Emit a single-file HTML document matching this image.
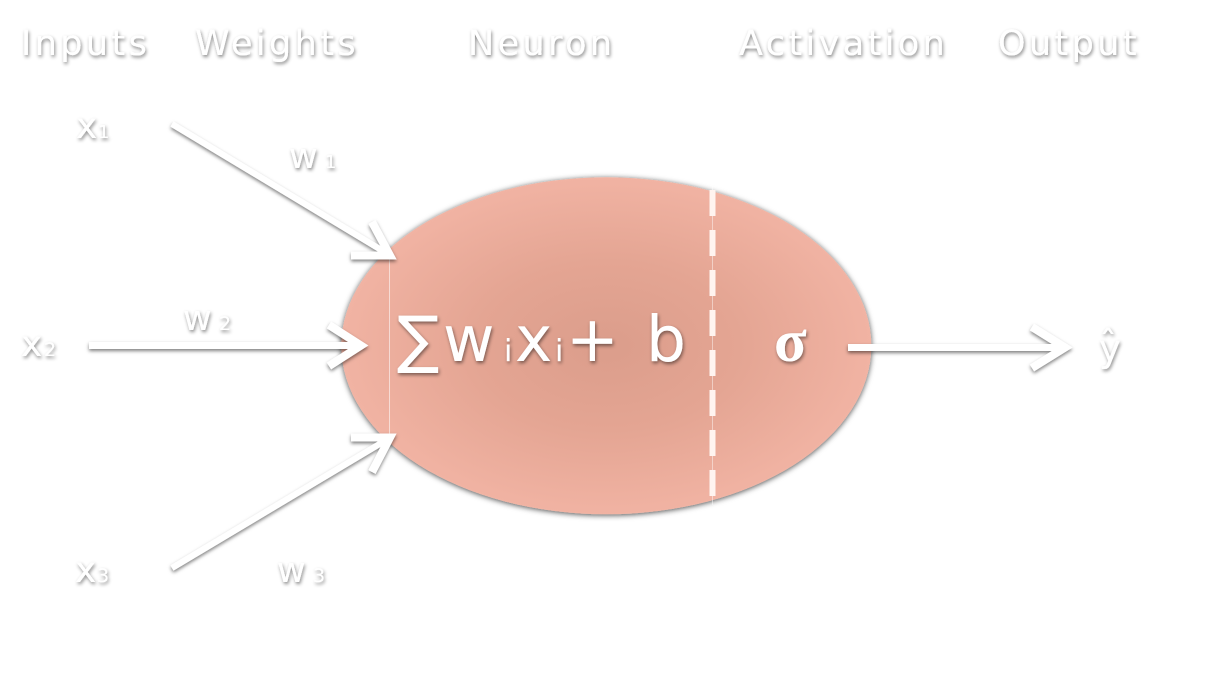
<!DOCTYPE html>
<html>
<head>
<meta charset="utf-8">
<style>
html,body{margin:0;padding:0;background:#fff;}
svg{display:block;}
text{font-family:"DejaVu Sans","Liberation Sans",sans-serif;fill:#fff;}
</style>
</head>
<body>
<svg width="1212" height="690" viewBox="0 0 1212 690">
<defs>
<radialGradient id="ng" gradientUnits="userSpaceOnUse" cx="607" cy="346" r="265" gradientTransform="translate(607 346) scale(1 .64) translate(-607 -346)">
<stop offset="0" stop-color="#db9d8b"/><stop offset=".5" stop-color="#e4a593"/><stop offset="1" stop-color="#f1b3a3"/>
</radialGradient>
<filter id="s" x="-20%" y="-50%" width="140%" height="200%"><feDropShadow dx="1" dy="2" stdDeviation="1.800" flood-color="#000" flood-opacity=".48"/></filter>
<filter id="se" x="-10%" y="-10%" width="120%" height="120%"><feDropShadow dx="0" dy="1" stdDeviation="3" flood-color="#000" flood-opacity=".7"/></filter>
<filter id="sl" filterUnits="userSpaceOnUse" x="0" y="0" width="1212" height="690"><feDropShadow dx="0" dy="2" stdDeviation="1.800" flood-color="#000" flood-opacity=".5"/></filter>
</defs>
<rect width="1212" height="690" fill="#fff"/>
<ellipse cx="606.300" cy="345.800" rx="265" ry="168.500" fill="url(#ng)" filter="url(#se)"/>
<line x1="389.500" y1="258" x2="389.500" y2="435" stroke="#fff" stroke-opacity=".55"/>
<line x1="712.500" y1="186" x2="712.500" y2="505" stroke="#fff" stroke-opacity=".45"/>
<line x1="712.500" y1="190" x2="712.500" y2="497" stroke="#fff4f0" stroke-width="6" stroke-dasharray="26 14"/>

<g font-size="35" letter-spacing="3.400" filter="url(#s)">
<text x="21" y="55">Inputs</text>
<text x="195" y="55">Weights</text>
<text x="468" y="55">Neuron</text>
<text x="739" y="55">Activation</text>
<text x="998" y="55">Output</text>
</g>

<g fill="none" stroke="#fff" filter="url(#sl)">
<g><path stroke-width="6" d="M172 124L388 254"/><path stroke-width="8" d="M372 222L390 255.500L351 255.500"/></g>
<g><path stroke-width="7" d="M89 345.500L358 345.500"/><path stroke-width="8" d="M329 325L361 345.500L329 366"/></g>
<g><path stroke-width="6" d="M172 568L388 439"/><path stroke-width="8" d="M351 437.500L390 437.500L372 472"/></g>
<g><path stroke-width="7" d="M848 347.500L1062 347.500"/><path stroke-width="8" d="M1032 327L1065 347.500L1032 368"/></g>
</g>

<g filter="url(#s)">
<g><text x="76" y="138" font-size="36">x</text><text x="98" y="138" font-size="18">1</text></g>
<g><text x="21" y="356" font-size="36">x</text><text x="44" y="356" font-size="19">2</text></g>
<g><text x="75" y="582" font-size="36">x</text><text x="97" y="582" font-size="19">3</text></g>
<g><text x="289" y="168" font-size="35">w</text><text x="325" y="168" font-size="18">1</text></g>
<g><text x="183" y="330" font-size="35">w</text><text x="219" y="330" font-size="19">2</text></g>
<g><text x="277" y="582" font-size="35">w</text><text x="313" y="582" font-size="19">3</text></g>
<g><text x="1110" y="361" font-size="37" text-anchor="middle">y</text><text x="1108" y="356" font-size="36" text-anchor="middle">ˆ</text></g>
<g>
<text x="397" y="361" font-size="63">∑</text>
<text x="443" y="361" font-size="63">w</text>
<text x="504" y="361" font-size="30">i</text>
<text x="515" y="361" font-size="63">x</text>
<text x="555" y="361" font-size="30">i</text>
<text x="566" y="361" font-size="63">+</text>
<text x="646" y="361" font-size="63">b</text>
</g>
<text x="774" y="361" font-size="60" font-weight="bold" style="font-family:'Liberation Serif',serif">σ</text>
</g>
</svg>
</body>
</html>
